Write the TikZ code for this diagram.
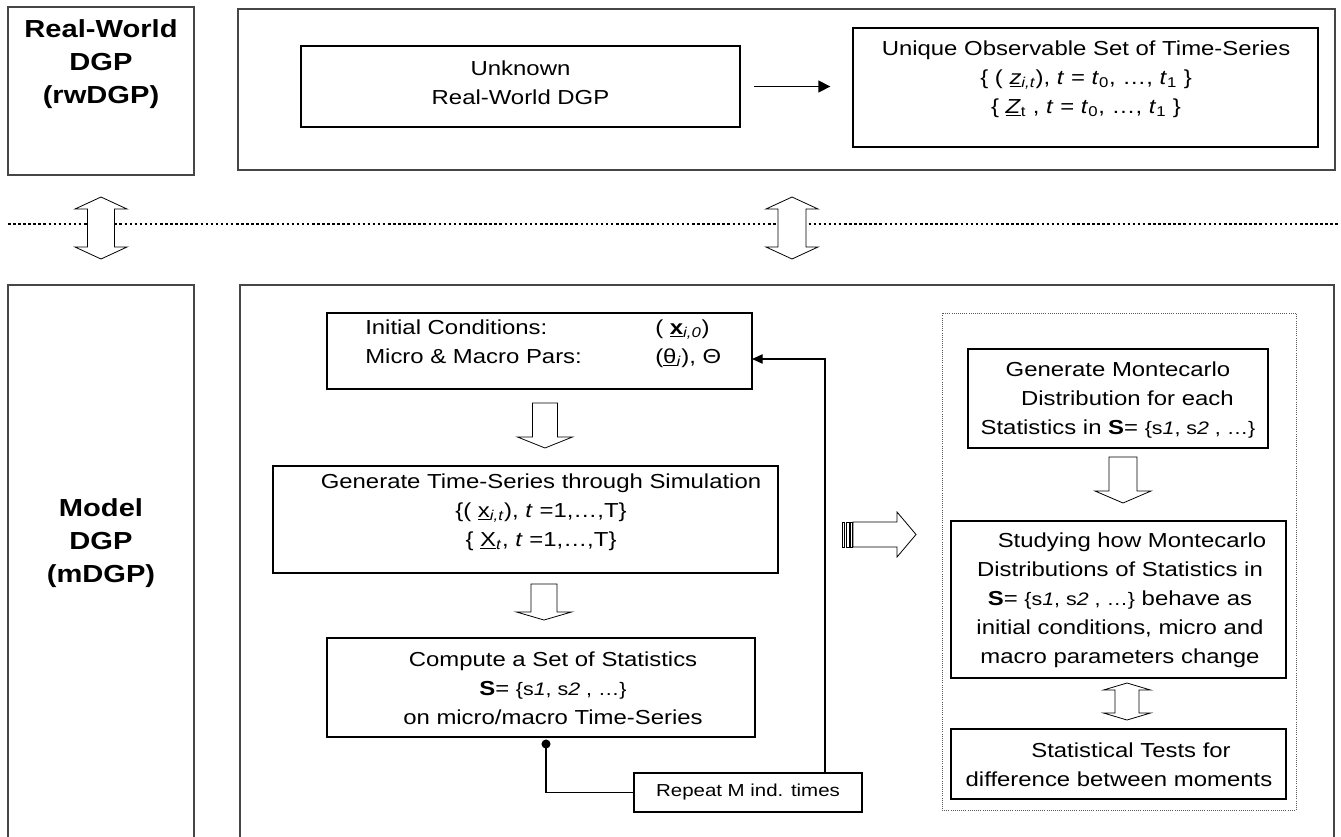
\documentclass[tikz,border=0pt]{standalone}
\usepackage{fontspec}
\setmainfont{Liberation Sans}[FakeStretch=1.18]
\usetikzlibrary{arrows.meta}
\newcommand{\mySset}{\textbf{S}= {\fontsize{13.6}{15}\selectfont\{s\textit{1}, s\textit{2} , …\}}}
\newcommand{\downblk}[6]{%
  \draw[blockarrow] ({#1-#5},#2) -- ({#1+#5},#2) -- ({#1+#5},#3) -- ({#1+#6},#3) -- (#1,#4) -- ({#1-#6},#3) -- ({#1-#5},#3) -- cycle;}
\newcommand{\dblblk}[7]{%
  \draw[blockarrow] (#1,#2) -- ({#1+#7},#3) -- ({#1+#6},#3) -- ({#1+#6},#4) -- ({#1+#7},#4) -- (#1,#5) -- ({#1-#7},#4) -- ({#1-#6},#4) -- ({#1-#6},#3) -- ({#1-#7},#3) -- cycle;}
\tikzset{
  boxat/.style 2 args={anchor=north west, minimum width=#1*0.75pt, minimum height=#2*0.75pt, inner sep=0pt, outer sep=0pt},
  outerbox/.style={draw={rgb,255:red,70;green,70;blue,70}, line width=0.9pt},
  innerbox/.style={draw=black, line width=1pt},
  txt/.style={align=center, inner sep=0pt, font=\fontsize{15.2}{21.75}\selectfont},
  bigtxt/.style={align=center, inner sep=0pt, font=\fontsize{18.5}{24.6}\selectfont\bfseries},
  blockarrow/.style={draw=black, fill=white, line width=0.6pt, line join=miter},
  conn/.style={draw=black, line width=1pt},
  sepline/.style={line width=1.9pt, dash pattern=on 1.9pt off 1.9pt},
}
\begin{document}
\begin{tikzpicture}[x=0.75pt, y=-0.75pt]
\useasboundingbox (0,0) rectangle (1341,836);
\clip (0,0) rectangle (1341,836);
\fill[white] (0,0) rectangle (1341,836);

% outer boxes
\node[outerbox, boxat={186}{168}] (rwbox) at (8,7) {};
\node[outerbox, boxat={1097}{161}] (topbig) at (238,9) {};
\node[outerbox, boxat={186}{580}] (mbox) at (8,285) {};
\node[outerbox, boxat={1094}{580}] (botbig) at (240,285) {};

\node[bigtxt] (rwtext) at (101,64) {Real-World\\DGP\\(rwDGP)};
\node[bigtxt] (mtext) at (101,543) {Model\\DGP\\(mDGP)};

% top row
\node[innerbox, boxat={439}{81}] (unknown) at (301,46) {};
\node[txt] (unktext) at (520.5,82.5) {Unknown\\Real-World DGP};
\node[innerbox, boxat={465}{119}] (unique) at (853,28) {};
\node[txt] (uniqtext) at (1086,79) {Unique Observable Set of Time-Series\\
\{ ( \underline{\textit{z}}\textsubscript{\textit{i,t}}), \textit{t} = \textit{t}\textsubscript{0}, …, \textit{t}\textsubscript{1} \}\\
\{ \underline{\textit{Z}}\textsubscript{t} , \textit{t} = \textit{t}\textsubscript{0}, …, \textit{t}\textsubscript{1} \}};
\draw[conn, -{Triangle[length=9pt,width=9pt]}, yshift=-2.6pt, shorten <=10.5pt, shorten >=17pt] (unknown.east) -- (unique.west |- unknown.east);

% separator
\draw[sepline] (8,224) -- (1341,224);
\dblblk{101}{197}{209}{247}{259}{13.5}{26}
\dblblk{792}{197}{209}{247}{259}{14}{26}

% model column
\node[innerbox, boxat={425}{76}] (init) at (327,313) {};
\node[txt, anchor=west] (inittext) at (365,343) {\begin{tabular}{@{}p{217.5pt}@{}l@{}}
Initial Conditions: & ( \underline{\textbf{x}}\textsubscript{\textit{i,0}}) \\
Micro \& Macro Pars: & (\underline{θ}\textsubscript{\textit{i}}), Θ
\end{tabular}};
\downblk{545}{403}{437}{448}{12.5}{27.5}
\node[innerbox, boxat={505}{107}] (gen) at (273,466) {};
\node[txt] (gentext) at (541,512) {Generate Time-Series through Simulation\\
\{( \underline{x}\textsubscript{\textit{i,t}}), \textit{t} =1,…,T\}\\
\{ \underline{X}\textsubscript{\textit{t}}, \textit{t} =1,…,T\}};
\downblk{544}{584}{612}{620}{13}{27.5}
\node[innerbox, boxat={428}{99}] (comp) at (327,638) {};
\node[txt] (comptext) at (553,688) {Compute a Set of Statistics\\ \mySset\\ on micro/macro Time-Series};
\node[innerbox, boxat={228}{39}, font=\fontsize{13}{15}\selectfont] (rep) at (634,773) {Repeat M ind. times};

\coordinate (dot) at (546,744);
\coordinate (fb) at (825,359);
\fill (dot) circle (3.4pt);
\draw[conn] (dot) |- (rep.west);
\draw[conn, -{Triangle[length=8pt,width=7pt]}] (rep.north -| fb) -- (fb) -- (fb -| init.east);

% striped arrow
\draw[blockarrow] (853,522) -- (897,522) -- (897,512) -- (916,534.5) -- (897,557) -- (897,547) -- (853,547) -- cycle;
\draw[blockarrow] (842,522) rectangle (844.5,547);
\draw[blockarrow] (846.5,522) rectangle (849,547);
\draw[blockarrow] (850.5,522) rectangle (852,547);

% right dotted group
\node[draw={rgb,255:red,90;green,90;blue,90}, line width=0.6pt, densely dotted, boxat={354}{497}] (dotbox) at (942,313) {};
\node[innerbox, boxat={300}{99}] (mc) at (968,349) {};
\node[txt] (mctext) at (1118,400) {Generate Montecarlo\\\hspace*{14pt}Distribution for each\\Statistics in \mySset};
\downblk{1123}{457}{491}{503}{14}{28}
\node[innerbox, boxat={335}{157}] (study) at (951,521) {};
\node[txt] (studytext) at (1120,600) {\hspace*{18pt}Studying how Montecarlo\\Distributions of Statistics in\\\mySset{} behave as\\initial conditions, micro and\\macro parameters change};
\dblblk{1127}{683}{690}{713}{720}{12}{23.5}
\node[innerbox, boxat={335}{70}] (tests) at (951,729) {};
\node[txt] (teststext) at (1119,764.5) {\hspace*{18pt}Statistical Tests for\\difference between moments};
\end{tikzpicture}
\end{document}
